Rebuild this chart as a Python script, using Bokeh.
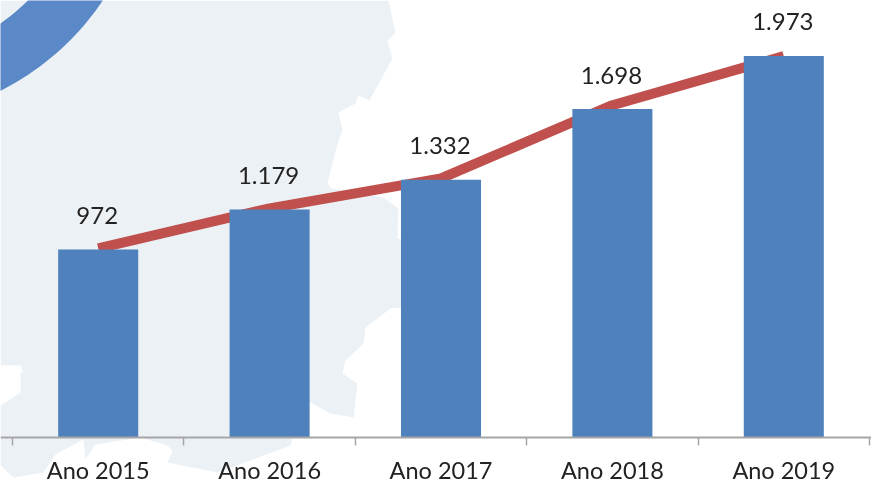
import numpy as np
from bokeh.embed import file_html
from bokeh.models import ColumnDataSource, FixedTicker, PolyAnnotation, Range1d
from bokeh.plotting import figure
from bokeh.resources import INLINE
from bokeh.core.properties import value

categories = ["Ano 2015", "Ano 2016", "Ano 2017", "Ano 2018", "Ano 2019"]
bar_values = [972, 1179, 1332, 1698, 1973]
bar_labels = ["972", "1.179", "1.332", "1.698", "1.973"]
line_values = [978, 1185, 1340, 1718, 1972]

WIDTH, HEIGHT = 871, 484

# decorative backdrop (pale map and blue ring), in page pixels
map_x = [0, 388, 395, 387, 392, 369, 358, 355, 338, 342, 338, 327, 330, 383, 398, 397, 405, 405,
         390, 365, 363, 345, 342, 357, 353, 330, 310, 300, 290, 217, 167, 172, 167, 140, 95, 85,
         83, 55, 43, 13, 0, 0, 20, 20, 23, 20, 0]
map_y = [0, 0, 32, 41, 58, 100, 95, 103, 112, 130, 140, 182, 188, 197, 208, 238, 240, 307,
         308, 327, 343, 360, 373, 383, 417, 413, 402, 410, 445, 472, 462, 450, 445, 437, 444, 459,
         439, 454, 472, 477, 465, 405, 392, 372, 372, 365, 365]
ring_cx, ring_cy, ring_r_in, ring_r_out = -121, -150, 211, 269

xpos = [i + 0.5 for i in range(len(categories))]

# full-canvas frame: axis spans x 12..869 px, baseline at y=437 px
px_x = 171.4
px_y = 188 / 972
p = figure(width=WIDTH, height=HEIGHT, output_backend="svg", toolbar_location=None,
           x_range=Range1d(-12 / px_x, 5 + 2 / px_x),
           y_range=Range1d(-(HEIGHT - 437) / px_y, 437 / px_y),
           y_axis_location=None, min_border_left=0, min_border_right=0,
           min_border_top=0, min_border_bottom=0,
           background_fill_color="white", border_fill_color="white",
           outline_line_color=None, tools="")
p.styles = {"position": "fixed", "left": "0px", "top": "0px"}
p.grid.visible = False

p.add_layout(PolyAnnotation(xs=map_x, ys=[HEIGHT - y for y in map_y], xs_units="screen", ys_units="screen",
                            fill_color="#ECF1F6", fill_alpha=1, line_color=None, level="underlay"))
t = np.linspace(0, np.pi / 2, 60)
ring_x = list(ring_cx + ring_r_out * np.cos(t)) + list(ring_cx + ring_r_in * np.cos(t[::-1]))
ring_y = list(ring_cy + ring_r_out * np.sin(t)) + list(ring_cy + ring_r_in * np.sin(t[::-1]))
p.add_layout(PolyAnnotation(xs=ring_x, ys=[HEIGHT - y for y in ring_y], xs_units="screen", ys_units="screen",
                            fill_color="#5B89C8", fill_alpha=1, line_color=None, level="underlay"))

src = ColumnDataSource(dict(x=xpos, top=bar_values, line=line_values, label=bar_labels))
p.line("x", "line", source=src, line_color="#C0504D", line_width=10, line_join="round")
p.vbar(x="x", top="top", bottom=0, width=0.467, source=src, fill_color="#4F81BD", line_color=None)
p.text("x", "top", text="label", source=src, text_align="center", text_baseline="alphabetic",
       y_offset=-34, x_offset=-1, text_color="#222222", text_font=value("Lato"), text_font_size="24px")

ax = p.xaxis[0]
ax.fixed_location = 0
ax.ticker = FixedTicker(ticks=xpos, minor_ticks=list(range(len(categories) + 1)))
ax.major_label_overrides = {x: c for x, c in zip(xpos, categories)}
ax.axis_line_color = "#A6A6A6"
ax.axis_line_width = 2
ax.major_tick_line_color = None
ax.minor_tick_line_color = "#A6A6A6"
ax.minor_tick_line_width = 1.5
ax.minor_tick_out = 8
ax.minor_tick_in = 0
ax.major_tick_out = 0
ax.major_tick_in = 0
ax.major_label_standoff = 10
ax.major_label_text_font = "Lato"
ax.major_label_text_font_size = "23.5px"
ax.major_label_text_color = "#222222"

open("out.html", "w").write(file_html(p, INLINE))
